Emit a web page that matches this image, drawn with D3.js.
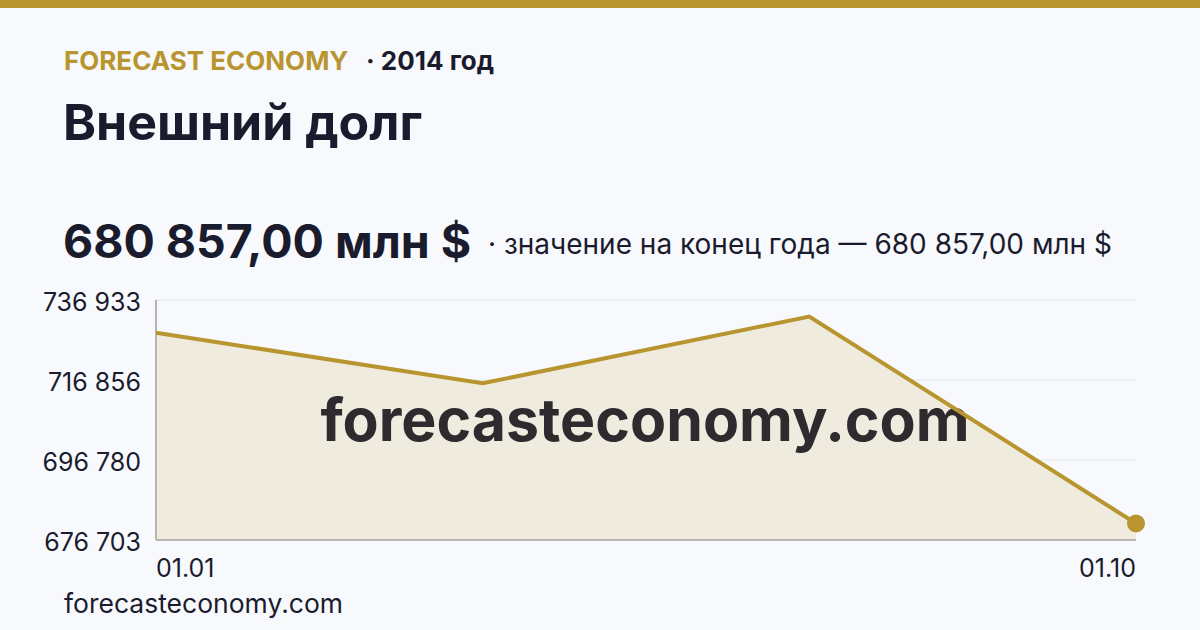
<!DOCTYPE html>
<html lang="ru">
<head>
<meta charset="utf-8">
<title>Внешний долг</title>
<style>
  body { margin: 0; background: #f7f9fc; }
  svg text { font-family: Inter, "Noto Sans", sans-serif; }
</style>
</head>
<body>
<svg id="chart" width="1200" height="630"></svg>
<script src="https://d3js.org/d3.v7.min.js"></script>
<script>
  // data
  var periods = ["01.01", "01.04", "01.07", "01.10"];
  var debt = [728726, 716028, 732779, 680857];
  var yTicks = [676703, 696780, 716856, 736933];
  var xTickLabels = ["01.01", "01.10"];

  var gold = "#b8952e";
  var dark = "#1b1b2e";

  var svg = d3.select("#chart");
  var w = +svg.attr("width");

  svg.append("rect").attr("width", w).attr("height", 630).attr("fill", "#f7f9fc");
  svg.append("rect").attr("width", w).attr("height", 8).attr("fill", gold);

  // header
  svg.append("text").attr("x", 64).attr("y", 70)
    .attr("font-size", 26).attr("font-weight", 700).attr("fill", gold)
    .text("FORECAST ECONOMY");
  svg.append("text").attr("x", 366).attr("y", 70)
    .attr("font-size", 26).attr("font-weight", 700).attr("fill", dark)
    .text("· 2014 год");
  svg.append("text").attr("x", 63).attr("y", 140)
    .attr("font-size", 50).attr("font-weight", 700).attr("fill", dark)
    .text("Внешний долг");
  svg.append("text").attr("x", 63).attr("y", 258)
    .attr("font-size", 46.5).attr("font-weight", 700).attr("fill", dark)
    .text("680 857,00 млн $");
  svg.append("text").attr("x", 488).attr("y", 254)
    .attr("font-size", 28).attr("fill", dark)
    .text("· значение на конец года — 680 857,00 млн $");

  var x = d3.scalePoint().domain(periods).range([156, 1136]);
  var y = d3.scaleLinear().domain([yTicks[0], yTicks[yTicks.length - 1]]).range([540, 300]);

  // grid
  svg.append("g").selectAll("line").data(yTicks.slice(1)).join("line")
    .attr("x1", 156).attr("x2", 1136)
    .attr("y1", d => y(d)).attr("y2", d => y(d))
    .attr("stroke", "#e2e2e6").attr("stroke-width", 1);

  var pts = periods.map((p, i) => ({p: p, v: debt[i]}));

  svg.append("path")
    .datum(pts)
    .attr("fill", "#efebdf")
    .attr("d", d3.area().x(d => x(d.p)).y0(y(yTicks[0])).y1(d => y(d.v)));

  // axes lines
  svg.append("line").attr("x1", 156).attr("x2", 156).attr("y1", 300).attr("y2", 540)
    .attr("stroke", "#b9b5ae").attr("stroke-width", 2);
  svg.append("line").attr("x1", 156).attr("x2", 1136).attr("y1", 540).attr("y2", 540)
    .attr("stroke", "#b9b5ae").attr("stroke-width", 2);

  // watermark
  svg.append("text").attr("x", 645).attr("y", 441)
    .attr("text-anchor", "middle")
    .attr("font-size", 59).attr("font-weight", 700).attr("fill", "#2f2a2e")
    .text("forecasteconomy.com");

  svg.append("path")
    .datum(pts)
    .attr("fill", "none")
    .attr("stroke", gold).attr("stroke-width", 4)
    .attr("d", d3.line().x(d => x(d.p)).y(d => y(d.v)));

  var last = pts[pts.length - 1];
  svg.append("circle").attr("cx", x(last.p)).attr("cy", y(last.v)).attr("r", 9).attr("fill", gold);

  // y tick labels
  var fmt = d => d3.format(",")(d).replace(/,/g, " ");
  svg.append("g").selectAll("text").data(yTicks).join("text")
    .attr("x", 141).attr("y", d => y(d) + 11)
    .attr("text-anchor", "end")
    .attr("font-size", 25).attr("fill", dark)
    .text(fmt);

  // x tick labels
  svg.append("g").selectAll("text").data(xTickLabels).join("text")
    .attr("x", d => x(d))
    .attr("y", 577)
    .attr("text-anchor", (d, i) => i == 0 ? "start" : "end")
    .attr("font-size", 25).attr("fill", dark)
    .text(d => d);

  svg.append("text").attr("x", 64).attr("y", 613)
    .attr("font-size", 26.5).attr("fill", dark)
    .text("forecasteconomy.com");
</script>
</body>
</html>
